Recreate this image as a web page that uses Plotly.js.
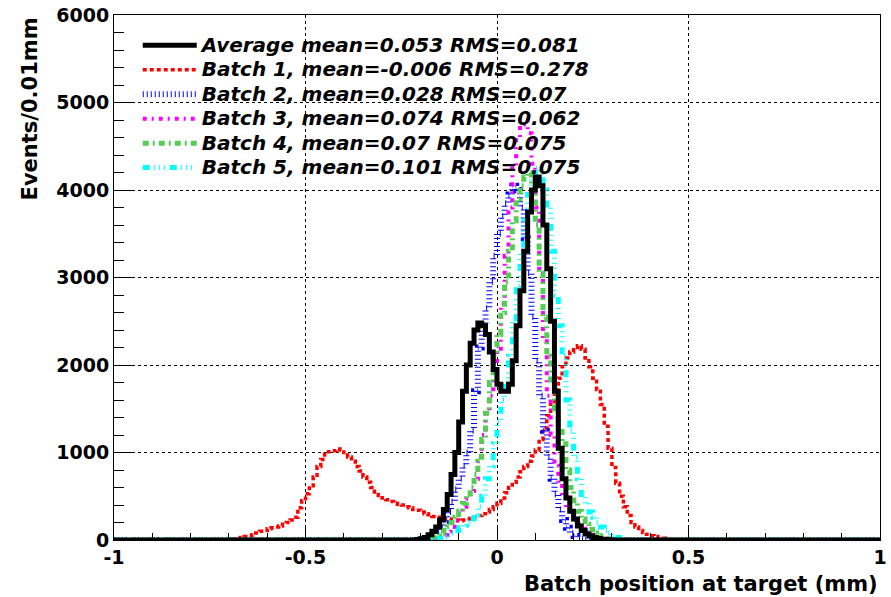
<!DOCTYPE html>
<html>
<head>
<meta charset="utf-8">
<script src="https://cdn.plot.ly/plotly-3.0.1.min.js"></script>
<style>html,body{margin:0;padding:0;background:#fff;}#chart{width:891px;height:597px;}</style>
</head>
<body>
<div id="chart"></div>
<script>
// Histogram: 200 bins of 0.01 mm from -1 to 1. Each series is given from its first listed bin centre.
var binLow = -1.0, binWidth = 0.01, nBins = 200;

var seriesNames = [
  'Average mean=0.053 RMS=0.081',
  'Batch 1, mean=-0.006 RMS=0.278',
  'Batch 2, mean=0.028 RMS=0.07',
  'Batch 3, mean=0.074 RMS=0.062',
  'Batch 4, mean=0.07 RMS=0.075',
  'Batch 5, mean=0.101 RMS=0.075'
];

// Average (black)
var avgStart = -0.215;
var avgValues = [0,5,15,30,60,100,150,230,350,520,750,1000,1350,1700,2000,2250,2400,2480,2450,2350,2150,1950,
  1780,1700,1700,1780,2050,2450,2850,3300,3750,4000,4150,4050,3600,3100,2500,1700,1050,700,480,330,240,160,110,70,45,30,18,10,6,3];

// Batch 1 (red)
var b1Start = -0.695;
var b1Values = [5,10,20,30,40,50,60,80,100,110,130,140,150,160,180,200,230,260,370,450,530,620,720,840,920,980,1010,
  1020,1040,1030,1000,950,900,840,790,720,660,600,550,510,480,460,440,420,410,400,380,370,350,340,
  320,300,290,270,260,250,240,240,230,230,220,230,240,250,260,280,300,320,350,380,
  420,480,540,600,660,720,780,840,900,960,1030,1150,1280,1420,1580,1720,1850,1980,2080,2150,2200,2220,2180,2080,1980,1850,1720,1550,1300,1050,
  830,650,500,380,280,200,150,110,85,65,50,40,30,20,12,8,4];

// Batch 2 (blue)
var b2Start = -0.205;
var b2Values = [5,10,20,35,60,90,140,220,320,440,580,700,850,1000,1250,1700,2200,2450,2650,2950,3250,
  3500,3700,3850,3950,4050,4000,3800,3450,3050,2550,2050,1650,1250,950,700,520,350,230,140,80,45,20,8];

// Batch 3 (magenta)
var b3Start = -0.175;
var b3Values = [5,10,20,35,60,100,150,220,300,380,470,560,700,950,1200,1450,1650,1850,
  2150,2700,3250,3800,4250,4600,4750,4800,4650,4300,3800,3100,2300,1650,1200,850,650,480,370,290,230,180,130,90,60,35,20,10];

// Batch 4 (green)
var b4Start = -0.185;
var b4Values = [10,20,35,55,80,110,150,200,260,330,420,500,600,750,900,1150,1450,1800,2100,
  2350,2600,2950,3300,3650,3900,4050,4150,4200,4050,3600,3050,2550,2100,1800,1500,1300,1100,800,600,450,330,240,180,120,80,50,30,15,8];

// Batch 5 (cyan)
var b5Start = -0.165;
var b5Values = [5,10,20,35,55,80,110,140,170,200,240,290,380,500,700,850,1100,
  1350,1600,1800,2100,2500,2900,3300,3650,3950,4150,4250,4200,4000,3800,3300,2800,2450,2100,1600,1250,950,700,520,420,320,260,200,150,110,80,50,30,15,5];

var colors = ['#000000', '#ff0000', '#0000ff', '#ff00ff', '#55cc55', '#00ffff'];

function buildSeries(startCentre, values) {
  var counts = new Array(nBins).fill(0);
  var first = Math.round((startCentre - binLow - binWidth / 2) / binWidth);
  for (var k = 0; k < values.length; k++) {
    var idx = first + k;
    if (idx >= 0 && idx < nBins) counts[idx] = values[k];
  }
  var xs = [], ys = [];
  for (var i = 0; i < nBins; i++) { xs.push(+(binLow + i * binWidth).toFixed(3)); ys.push(counts[i]); }
  xs.push(binLow + nBins * binWidth); ys.push(counts[nBins - 1]);
  return {x: xs, y: ys};
}

var defs = [
  {start: avgStart, vals: avgValues, width: 5, dash: 'solid', rank: 1},
  {start: b1Start, vals: b1Values, width: 3.5, dash: '4px,3px', rank: 2},
  {start: b2Start, vals: b2Values, width: 6, dash: '1px,3px', rank: 3},
  {start: b3Start, vals: b3Values, width: 4, dash: '4px,5px,2px,5px', rank: 4},
  {start: b4Start, vals: b4Values, width: 5, dash: '6px,4px,2px,4px', rank: 5},
  {start: b5Start, vals: b5Values, width: 5, dash: '7px,4px,1px,4px,1px,4px,1px,5px', rank: 6}
];

var drawOrder = [1, 2, 3, 4, 5, 0];
var traces = drawOrder.map(function (j) {
  var s = buildSeries(defs[j].start, defs[j].vals);
  return {
    type: 'scatter', mode: 'lines', x: s.x, y: s.y,
    line: {shape: 'hv', color: colors[j], width: defs[j].width, dash: defs[j].dash},
    name: '<span style="font-size:20px">' + seriesNames[j] + '</span>',
    legendrank: defs[j].rank,
    hoverinfo: 'skip'
  };
});

var tickFont = {family: 'DejaVu Sans', size: 19, color: '#000', weight: 'bold'};
var titleFont = {family: 'DejaVu Sans', size: 21, color: '#000', weight: 'bold'};

var xTickVals = [-1, -0.5, 0, 0.5, 1];
var xTickText = ['-1', '-0.5', '0', '0.5', '1'];
var xMinorVals = [-0.9, -0.8, -0.7, -0.6, -0.4, -0.3, -0.2, -0.1, 0.1, 0.2, 0.3, 0.4, 0.6, 0.7, 0.8, 0.9];
var yTickVals = [0, 1000, 2000, 3000, 4000, 5000, 6000];
var yTickText = ['0', '1000', '2000', '3000', '4000', '5000', '6000'];

var layout = {
  width: 891, height: 597,
  margin: {l: 114, r: 11, t: 15, b: 57},
  paper_bgcolor: '#fff', plot_bgcolor: '#fff',
  showlegend: true,
  legend: {
    x: 0.031, y: 0.975, xanchor: 'left', yanchor: 'top',
    bgcolor: 'rgba(0,0,0,0)', borderwidth: 0,
    font: {family: 'DejaVu Sans', size: 16.5, color: '#000', weight: 'bold', style: 'italic'},
    itemwidth: 54, traceorder: 'normal'
  },
  xaxis: {
    range: [-1, 1], tickmode: 'array', tickvals: xTickVals, ticktext: xTickText,
    ticks: 'inside', ticklen: 13, tickwidth: 1, tickcolor: '#000',
    showline: true, linecolor: '#000', linewidth: 1, mirror: true,
    showgrid: true, gridcolor: '#000', griddash: 'dot', gridwidth: 1, zeroline: false,
    tickfont: tickFont,
    minor: {tickmode: 'array', tickvals: xMinorVals, ticks: 'inside', ticklen: 7, tickwidth: 1, tickcolor: '#000', showgrid: false}
  },
  yaxis: {
    range: [0, 6000], tickmode: 'array', tickvals: yTickVals, ticktext: yTickText,
    ticks: 'inside', ticklen: 18, tickwidth: 1, tickcolor: '#000',
    showline: true, linecolor: '#000', linewidth: 1, mirror: true,
    showgrid: true, gridcolor: '#000', griddash: 'dot', gridwidth: 1, zeroline: false,
    tickfont: tickFont,
    minor: {tickmode: 'linear', tick0: 0, dtick: 200, ticks: 'inside', ticklen: 10, tickwidth: 1, tickcolor: '#000', showgrid: false}
  },
  shapes: [{
    type: 'rect', xref: 'paper', yref: 'paper', x0: 0.025, x1: 0.621, y0: 0.68, y1: 0.977,
    fillcolor: '#ffffff', line: {width: 0}, layer: 'between'
  }],
  annotations: [
    {text: 'Batch position at target (mm)', xref: 'paper', yref: 'paper', x: 1, y: -0.057,
     xanchor: 'right', yanchor: 'top', showarrow: false, font: titleFont},
    {text: 'Events/0.01mm', xref: 'paper', yref: 'paper', x: -0.1097, y: 1.0,
     xanchor: 'center', yanchor: 'top', textangle: -90, showarrow: false, font: titleFont}
  ]
};

Plotly.newPlot('chart', traces, layout, {staticPlot: true, displayModeBar: false});
</script>
</body>
</html>
